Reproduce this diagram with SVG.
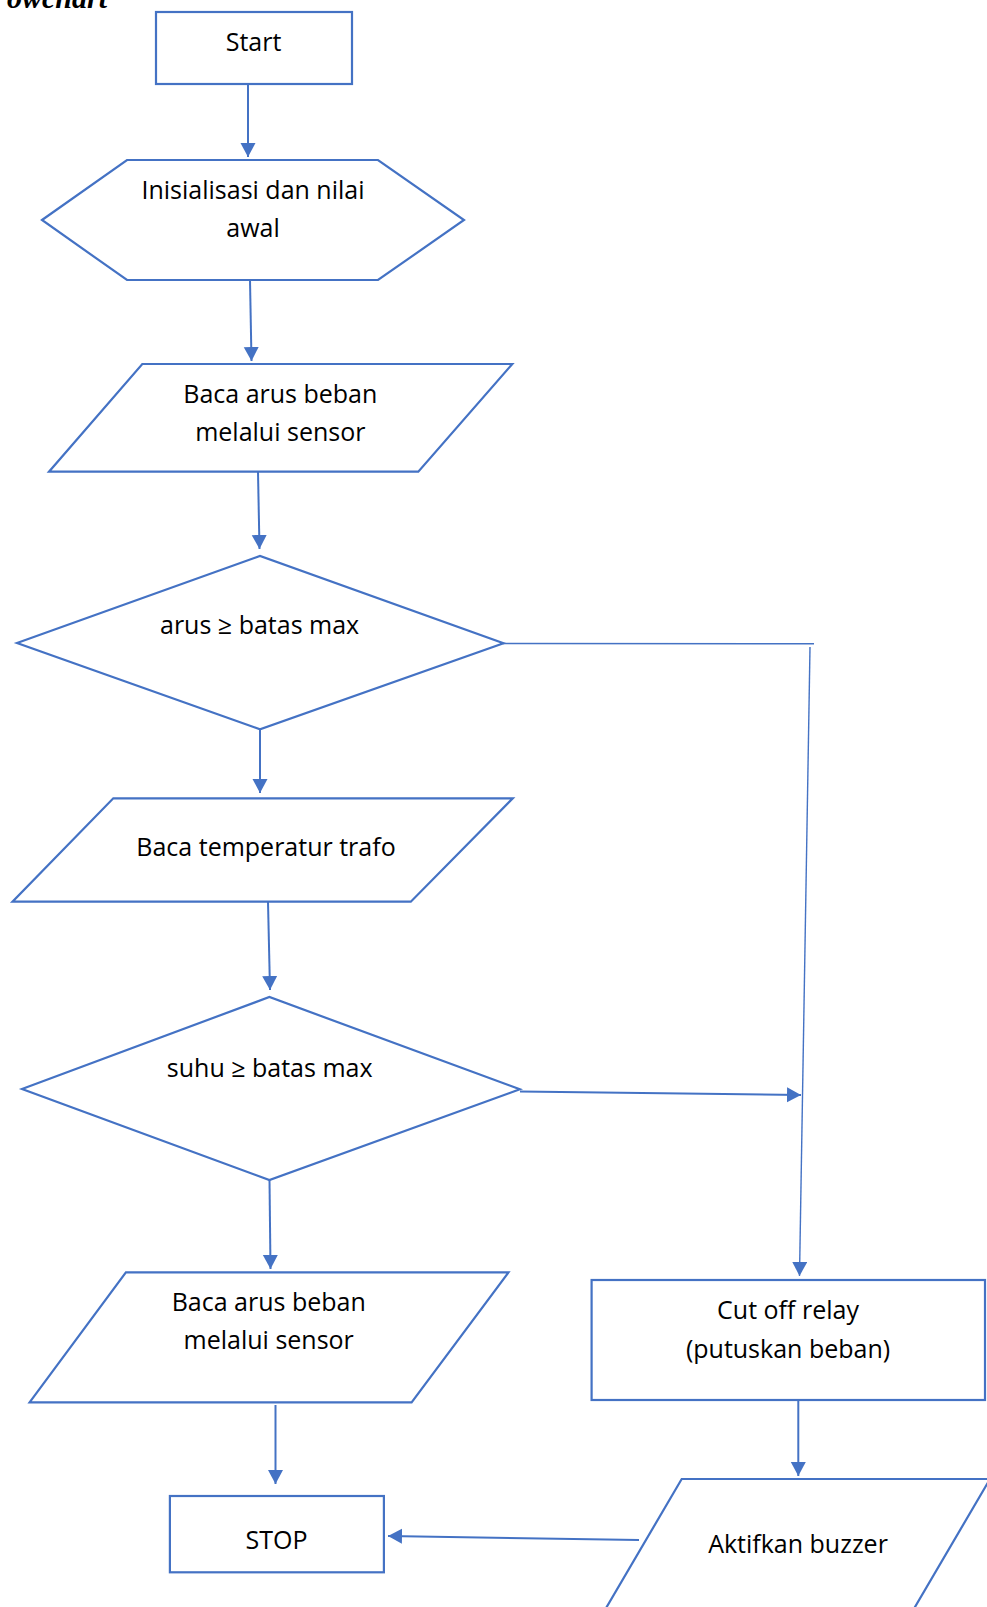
<svg xmlns="http://www.w3.org/2000/svg" width="987" height="1607" viewBox="0 0 987 1607">
<defs>
<style>
.shape{fill:#ffffff;stroke:#4472C4;stroke-width:2.2;stroke-linejoin:miter}
.conn{fill:none;stroke:#4472C4;stroke-width:2}
.thin{fill:none;stroke:#4472C4;stroke-width:1.4}
.lbl{font-family:"Open Sans","Noto Sans","Liberation Sans",sans-serif;font-size:25px;fill:#000000;text-anchor:middle}
.title{font-family:"Liberation Serif","Times New Roman",serif;font-size:30px;font-weight:bold;font-style:italic;fill:#000000}
</style>
<marker id="arr" markerUnits="userSpaceOnUse" markerWidth="15" markerHeight="16" refX="14" refY="7.5" orient="auto">
<path d="M0,0 L14,7.5 L0,15 z" fill="#4472C4"/>
</marker>
</defs>
<rect width="987" height="1607" fill="#ffffff"/>
<text class="title" x="7" y="8">owchart</text>

<g id="connectors">
<line class="conn" x1="248" y1="84" x2="248" y2="157" marker-end="url(#arr)"/>
<line class="conn" x1="250" y1="280" x2="251.5" y2="361" marker-end="url(#arr)"/>
<line class="conn" x1="258" y1="472" x2="259.5" y2="549" marker-end="url(#arr)"/>
<line class="conn" x1="260" y1="723" x2="260" y2="793" marker-end="url(#arr)"/>
<line class="conn" x1="268" y1="902" x2="270" y2="990" marker-end="url(#arr)"/>
<line class="conn" x1="269.5" y1="1180" x2="270.5" y2="1269" marker-end="url(#arr)"/>
<line class="conn" x1="275.5" y1="1405" x2="275.5" y2="1484" marker-end="url(#arr)"/>
<line class="thin" x1="503" y1="643.5" x2="814" y2="643.8"/>
<line class="thin" x1="810" y1="647" x2="799.5" y2="1276" marker-end="url(#arr)"/>
<line class="conn" x1="520" y1="1091.5" x2="801" y2="1095" marker-end="url(#arr)"/>
<line class="conn" x1="798.3" y1="1400" x2="798.3" y2="1476" marker-end="url(#arr)"/>
<line class="conn" x1="639" y1="1540" x2="388" y2="1536" marker-end="url(#arr)"/>
</g>

<g id="start">
<rect class="shape" x="156" y="12" width="196" height="72"/>
<text class="lbl" x="253.5" y="51">Start</text>
</g>

<g id="init">
<polygon class="shape" points="42,220 127,160 378,160 464,220 378,280 127,280"/>
<text class="lbl" x="253" y="199">Inisialisasi dan nilai</text>
<text class="lbl" x="253" y="237">awal</text>
</g>

<g id="read-current-1">
<polygon class="shape" points="142.3,364 512.3,364 418.3,471.7 49,471.7"/>
<text class="lbl" x="280.3" y="403">Baca arus beban</text>
<text class="lbl" x="280.3" y="441">melalui sensor</text>
</g>

<g id="decision-current">
<polygon class="shape" points="17,643 260,556 503.5,643.3 260,729.3"/>
<text class="lbl" x="259.6" y="634">arus ≥ batas max</text>
</g>

<g id="read-temp">
<polygon class="shape" points="113.3,798.3 512.8,798.3 410.8,901.7 12.5,901.7"/>
<text class="lbl" x="266" y="856">Baca temperatur trafo</text>
</g>

<g id="decision-temp">
<polygon class="shape" points="22,1089 269.4,997 519.8,1089.3 269.4,1180"/>
<text class="lbl" x="269.7" y="1077">suhu ≥ batas max</text>
</g>

<g id="read-current-2">
<polygon class="shape" points="125.9,1272.3 508.5,1272.3 411.6,1402.3 29.6,1402.3"/>
<text class="lbl" x="268.7" y="1311">Baca arus beban</text>
<text class="lbl" x="268.7" y="1349">melalui sensor</text>
</g>

<g id="cutoff">
<rect class="shape" x="591.6" y="1280" width="393.4" height="120"/>
<text class="lbl" x="788" y="1319">Cut off relay</text>
<text class="lbl" x="788" y="1358">(putuskan beban)</text>
</g>

<g id="buzzer">
<polygon class="shape" points="681.7,1479 990,1479 905,1624 596.7,1624"/>
<text class="lbl" x="798" y="1553">Aktifkan buzzer</text>
</g>

<g id="stop">
<rect class="shape" x="169.9" y="1496" width="214" height="76.3"/>
<text class="lbl" x="276.5" y="1549">STOP</text>
</g>
</svg>
